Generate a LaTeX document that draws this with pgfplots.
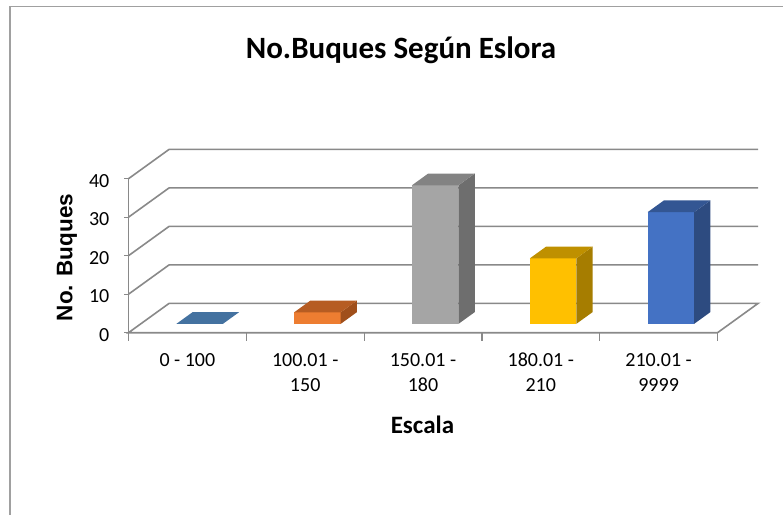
\documentclass[border=0pt]{standalone}
\usepackage{pgfplots}
\pgfplotsset{compat=1.18}
\usepackage{fontspec}
\setmainfont{Carlito}
\newfontfamily\arialf{Liberation Sans}
\definecolor{gridc}{RGB}{137,137,137}
\definecolor{bordc}{RGB}{160,160,160}
\definecolor{blueflat}{RGB}{68,114,160}
\definecolor{orF}{RGB}{237,125,49}\definecolor{orT}{RGB}{182,92,34}\definecolor{orS}{RGB}{160,79,27}
\definecolor{grF}{RGB}{165,165,165}\definecolor{grT}{RGB}{131,131,131}\definecolor{grS}{RGB}{110,110,110}
\definecolor{yeF}{RGB}{255,192,0}\definecolor{yeT}{RGB}{191,144,0}\definecolor{yeS}{RGB}{166,125,0}
\definecolor{blF}{RGB}{68,114,196}\definecolor{blT}{RGB}{51,86,147}\definecolor{blS}{RGB}{45,75,128}
% cuboid: #1 category centre, #2 value, #3 front, #4 side, #5 top colour
\newcommand{\cuboid}[5]{%
  \pgfmathsetmacro{\xl}{#1-0.1975}\pgfmathsetmacro{\xr}{#1+0.1975}%
  \edef\tmp{\noexpand\addplot3[draw=none, fill=#3] coordinates {(\xl,0.3,0) (\xr,0.3,0) (\xr,0.3,#2) (\xl,0.3,#2)} --cycle;}\tmp
  \edef\tmp{\noexpand\addplot3[draw=none, fill=#4] coordinates {(\xr,0.3,0) (\xr,0.7,0) (\xr,0.7,#2) (\xr,0.3,#2)} --cycle;}\tmp
  \edef\tmp{\noexpand\addplot3[draw=none, fill=#5] coordinates {(\xl,0.3,#2) (\xr,0.3,#2) (\xr,0.7,#2) (\xl,0.7,#2)} --cycle;}\tmp
}
\newcommand{\flatbar}[3]{%
  \pgfmathsetmacro{\xl}{#1-0.1975}\pgfmathsetmacro{\xr}{#1+0.1975}%
  \edef\tmp{\noexpand\addplot3[draw=none, fill=#3] coordinates {(\xl,0.3,#2) (\xr,0.3,#2) (\xr,0.7,#2) (\xl,0.7,#2)} --cycle;}\tmp
}
\newcommand{\st}{\rule{0pt}{15pt}}
\begin{document}
\begin{tikzpicture}[x=1pt,y=1pt]
\begin{axis}[hide axis, clip=false,
  x={(117.8pt,0pt)}, y={(40.7pt,29.4pt)}, z={(0pt,3.85pt)},
  xmin=0, xmax=5, ymin=0, ymax=1, zmin=0, zmax=40]
\coordinate (O) at (axis cs:0,0,0);
% walls and gridlines
\pgfplotsinvokeforeach{10,20,30,40}{
  \addplot3[gridc, line width=1.6pt] coordinates {(0,0,#1) (0,1,#1) (5,1,#1)};
}
\addplot3[gridc, line width=1.6pt] coordinates {(0,1,0) (5,1,0) (5,0,0) (0,0,0) (0,1,0)};
\addplot3[gridc, line width=1.6pt] coordinates {(0,0,0) (0,0,40)};
% tick marks
\pgfplotsinvokeforeach{0,1,2,3,4,5}{
  \addplot3[gridc, line width=1.2pt] coordinates {(#1,0,0) (#1,0,-2.1)};
}
\pgfplotsinvokeforeach{0,10,20,30,40}{
  \addplot3[gridc, line width=1.2pt] coordinates {(0,0,#1) (-0.034,0,#1)};
  \node[font=\fontsize{20}{24}\selectfont, anchor=east, inner sep=0pt, xshift=-19pt, yshift=-2pt] at (axis cs:0,0,#1) {#1};
}
% bars: values 0, 3, 36, 17, 29
\flatbar{0.5}{0}{blueflat}
\cuboid{1.5}{3}{orF}{orS}{orT}
\cuboid{2.5}{36}{grF}{grS}{grT}
\cuboid{3.5}{17}{yeF}{yeS}{yeT}
\cuboid{4.5}{29}{blF}{blS}{blT}
% category labels
\node[font=\fontsize{20}{25}\selectfont, anchor=north, align=center, inner sep=0pt, yshift=-18.8pt] at (axis cs:0.5,0,0) {\st0 - 100};
\node[font=\fontsize{20}{25}\selectfont, anchor=north, align=center, inner sep=0pt, yshift=-18.8pt] at (axis cs:1.5,0,0) {\st100.01 -\\150};
\node[font=\fontsize{20}{25}\selectfont, anchor=north, align=center, inner sep=0pt, yshift=-18.8pt] at (axis cs:2.5,0,0) {\st150.01 -\\180};
\node[font=\fontsize{20}{25}\selectfont, anchor=north, align=center, inner sep=0pt, yshift=-18.8pt] at (axis cs:3.5,0,0) {\st180.01 -\\210};
\node[font=\fontsize{20}{25}\selectfont, anchor=north, align=center, inner sep=0pt, yshift=-18.8pt] at (axis cs:4.5,0,0) {\st210.01 -\\9999};
\end{axis}
\pgfresetboundingbox
\begin{scope}[shift={(O)}]
\path[use as bounding box] (-128.5,-182.3) rectangle (654.5,332.7);
\draw[bordc, line width=1.6pt] (-118.5,-182.3) -- (-118.5,326) -- (654.5,326);
\node[font=\fontsize{31}{37}\selectfont\bfseries, anchor=base, inner sep=0pt] at (272.5,274.4) {No.Buques Según Eslora};
\node[font=\fontsize{25}{30}\selectfont\bfseries, anchor=base, inner sep=0pt] at (293.9,-100.3) {Escala};
\node[font=\arialf\fontsize{22.5}{27}\selectfont\bfseries, anchor=base, rotate=90, inner sep=0pt] at (-56,75.2) {No. Buques};
\end{scope}
\end{tikzpicture}
\end{document}
